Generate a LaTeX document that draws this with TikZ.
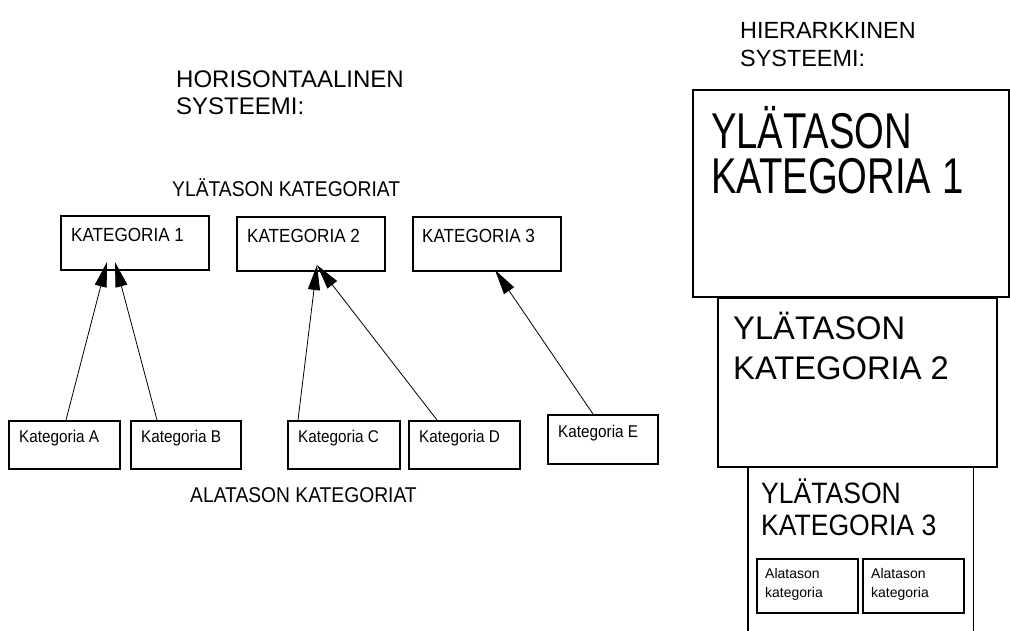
\documentclass[tikz,border=0pt]{standalone}
\usepackage{fontspec}
\setmainfont{Liberation Sans}
\newfontfamily\narrowA{Liberation Sans}[FakeStretch=0.76]
\newfontfamily\narrowB{Liberation Sans}[FakeStretch=0.9]
\usetikzlibrary{arrows.meta,calc}

\tikzset{
  box/.style={draw, line width=1.6pt, inner sep=0pt, anchor=north west},
  % multi-line nodes: the base anchor sits on the last line
  txt/.style={anchor=base west, inner sep=0pt, align=left},
  link/.style={line width=0.8pt, -{Triangle[length=25pt,width=12pt]}},
  head/.style={txt, font=\fontsize{23.4}{27.5}\selectfont},
  caption/.style={txt, font=\narrowB\fontsize{21.4}{24}\selectfont},
  upper/.style={txt, font=\narrowB\fontsize{19}{22}\selectfont},
  lower/.style={txt, font=\narrowB\fontsize{17}{20}\selectfont},
  sub/.style={txt, font=\fontsize{14}{19}\selectfont},
}

\begin{document}
\begin{tikzpicture}[x=1pt, y=-1pt]
\useasboundingbox (0,0) rectangle (1010,630);

% ---- horizontal system ----
\node[head, font=\fontsize{24}{27}\selectfont] (hhead) at (176,114) {HORISONTAALINEN\\SYSTEEMI:};
\node[caption] (capup) at (172,196) {YLÄTASON KATEGORIAT};
\node[caption] (caplow) at (190,502) {ALATASON KATEGORIAT};

% upper categories
\node[box, minimum width=148pt, minimum height=54pt] (k1) at (60,215) {};
\node[box, minimum width=148pt, minimum height=54pt] (k2) at (236,216) {};
\node[box, minimum width=148pt, minimum height=54pt] (k3) at (412,216) {};
\node[upper] (k1t) at ($(k1.north west)+(11,26)$) {KATEGORIA 1};
\node[upper] (k2t) at ($(k2.north west)+(11,26)$) {KATEGORIA 2};
\node[upper] (k3t) at ($(k3.north west)+(10,26)$) {KATEGORIA 3};

% lower categories
\node[box, minimum width=111pt, minimum height=48pt] (ka) at (8,420) {};
\node[box, minimum width=110pt, minimum height=48pt] (kb) at (130,420) {};
\node[box, minimum width=112pt, minimum height=48pt] (kc) at (287,420) {};
\node[box, minimum width=111pt, minimum height=48pt] (kd) at (408,420) {};
\node[box, minimum width=110pt, minimum height=49pt] (ke) at (547,414) {};
\node[lower] (kat) at ($(ka.north west)+(11,22)$) {Kategoria A};
\node[lower] (kbt) at ($(kb.north west)+(11,22)$) {Kategoria B};
\node[lower] (kct) at ($(kc.north west)+(11,22)$) {Kategoria C};
\node[lower] (kdt) at ($(kd.north west)+(11,22)$) {Kategoria D};
\node[lower] (ket) at ($(ke.north west)+(11,23)$) {Kategoria E};

% arrow tips inside the upper boxes
\coordinate (t1a) at ($(k1.north west)+(47,47)$);
\coordinate (t1b) at ($(k1.north west)+(55,47)$);
\coordinate (t2)  at ($(k2.north west)+(81,49)$);
\coordinate (t3)  at ($(k3.north west)+(83,54)$);

\draw[link] ($(ka.north west)+(58,0)$) -- (t1a);
\draw[link] ($(kb.north west)+(27,0)$) -- (t1b);
\draw[link] ($(kc.north west)+(11,0)$) -- (t2);
\draw[link] ($(kd.north west)+(29,0)$) -- (t2);
\draw[link] ($(ke.north west)+(46,0)$) -- (t3);

% ---- hierarchical system ----
\node[head] (vhead) at (740,66) {HIERARKKINEN\\SYSTEEMI:};

\node[box, minimum width=316pt, minimum height=207pt] (h1) at (692,89) {};
\node[txt, font=\narrowA\fontsize{50.3}{45}\selectfont] (h1t)
  at ($(h1.north west)+(19,104)$) {YLÄTASON\\KATEGORIA 1};

\node[box, minimum width=279pt, minimum height=169pt] (h2) at (717,297) {};
\node[txt, font=\fontsize{32.7}{40}\selectfont] (h2t)
  at ($(h2.north west)+(16,82)$) {YLÄTASON\\KATEGORIA 2};

% third level runs past the lower edge, so it has no bottom line
\node[inner sep=0pt, anchor=north west, minimum width=225pt, minimum height=170pt] (h3) at (748,467) {};
\draw[line width=1.6pt] (h3.south west) -- (h3.north west) -- (h3.north east) -- (h3.south east);
\node[txt, font=\narrowB\fontsize{29.5}{32}\selectfont] (h3t)
  at ($(h3.north west)+(13,68)$) {YLÄTASON\\KATEGORIA 3};

\node[box, minimum width=101pt, minimum height=54pt] (s1) at (756,558) {};
\node[box, minimum width=101pt, minimum height=54pt] (s2) at (862,558) {};
\node[sub] (s1t) at ($(s1.north west)+(9,39)$) {Alatason\\kategoria};
\node[sub] (s2t) at ($(s2.north west)+(9,39)$) {Alatason\\kategoria};
\end{tikzpicture}
\end{document}
